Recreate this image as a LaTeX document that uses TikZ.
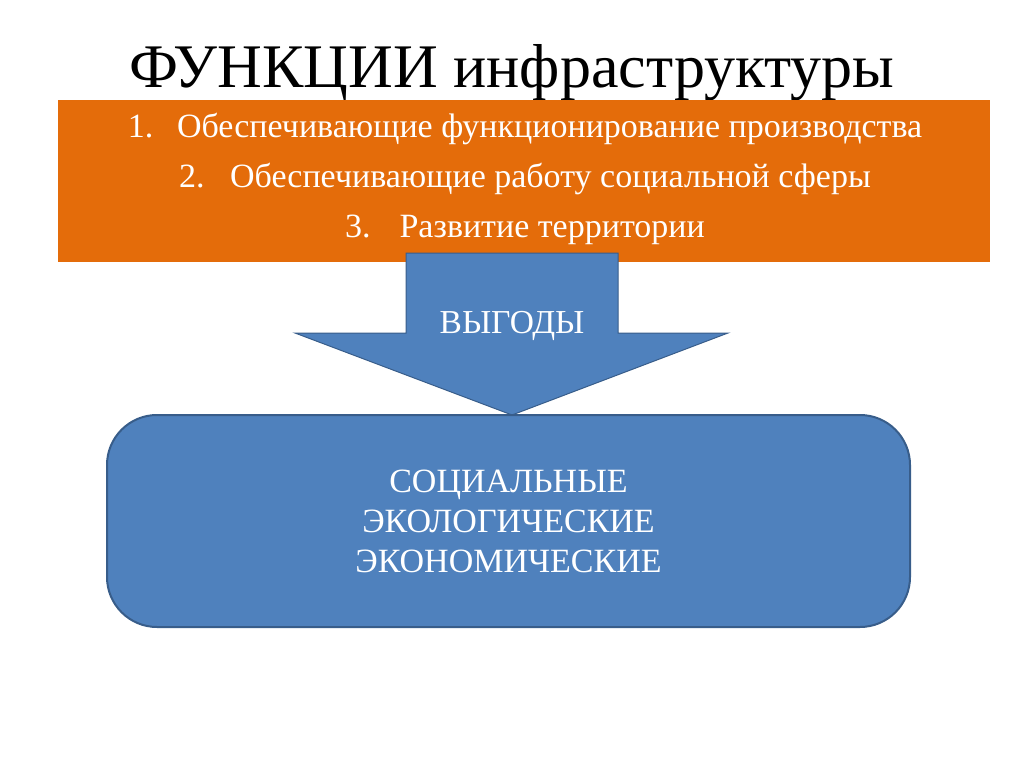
\documentclass[tikz,border=0pt]{standalone}
\usepackage{fontspec}
\setmainfont{Liberation Serif}
\usetikzlibrary{positioning}
\definecolor{boxorange}{HTML}{E46C0A}
\definecolor{boxblue}{HTML}{4F81BD}
\definecolor{edgeblue}{HTML}{385D8A}

\begin{document}
\begin{tikzpicture}[
        x=1pt, y=-1pt,
        every node/.style={inner sep=0pt},
        listitem/.style={anchor=base, text=white, font=\fontsize{34}{40}\selectfont},
        bigarrow/.style={fill=boxblue, draw=edgeblue, line width=1pt}
        ]
        \useasboundingbox (0,0) rectangle (1024,767);
        % Nodes
        \node (title) [anchor=base] at (512,88) {\fontsize{62}{70}\selectfont ФУНКЦИИ инфраструктуры};
        \node (functions) [fill=boxorange, minimum width=932pt, minimum height=162pt] at (524,181) {};
        \node (item1) [listitem] at (525,138) {1.\hspace{0.7em}Обеспечивающие функционирование производства};
        \node (item2) [listitem] at (525,188) {2.\hspace{0.75em}Обеспечивающие работу социальной сферы};
        \node (item3) [listitem] at (525,237) {3.\hspace{0.85em}Развитие территории};
        
        % Arrow
        \filldraw[bigarrow] (406,253) -- (618,253) -- (618,333) -- (728,333) -- (512,415)
            -- (295,333) -- (406,333) -- cycle;
        \node (gains) [anchor=base, text=white, font=\fontsize{33.5}{38}\selectfont] at (512,333) {ВЫГОДЫ};
        
        \node (effects) [fill=boxblue, draw=edgeblue, line width=2pt, rounded corners=50pt,
            minimum width=803pt, minimum height=212pt, align=center, text=white,
            font=\fontsize{34}{40}\selectfont] at (508.5,521)
            {СОЦИАЛЬНЫЕ\\ЭКОЛОГИЧЕСКИЕ\\ЭКОНОМИЧЕСКИЕ};
    \end{tikzpicture}
\end{document}
